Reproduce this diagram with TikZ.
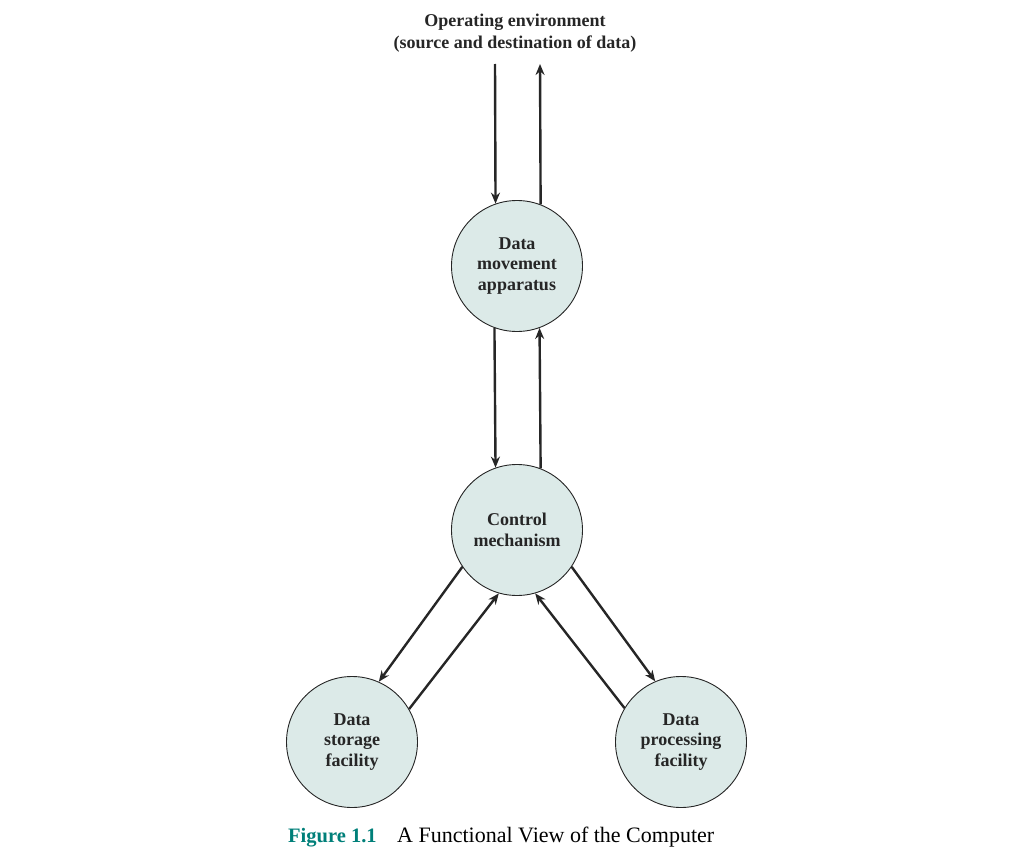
\documentclass[tikz,border=0pt]{standalone}
\usepackage{fontspec}
\setmainfont{Liberation Serif}
\usetikzlibrary{arrows.meta}
\definecolor{cfill}{HTML}{DCEAE8}
\definecolor{cteal}{HTML}{007F79}
\tikzset{
  unit/.style={circle, draw=black!85, line width=0.9pt, fill=cfill, minimum size=131pt, inner sep=0pt,
    align=center, font=\fontsize{18}{20.5}\selectfont\bfseries, text=black!85},
  flow/.style={line width=2.4pt, draw=black!85, -{Stealth[length=11pt,width=9pt]}},
}
\begin{document}
\begin{tikzpicture}[x=1pt,y=-1pt]
\useasboundingbox (0,0) rectangle (1031,859);
\node[font=\fontsize{18}{21.5}\selectfont\bfseries, align=center, text=black!85] (env) at (515,33)
  {Operating environment\\(source and destination of data)};
\node[unit] (mv) at (517,266) {Data\\movement\\apparatus};
\node[unit] (ct) at (517,530) {Control\\mechanism};
\node[unit] (st) at (352,742) {Data\\storage\\facility};
\node[unit] (pr) at (681,742) {Data\\processing\\facility};
\coordinate (ein) at (495,64);
\coordinate (eout) at (540,64);
\draw[flow] (ein) -- (mv.109.8);
\draw[flow] (mv.69.3) -- (eout);
\draw[flow] (mv.250.2) -- (ct.109.8);
\draw[flow] (ct.69.3) -- (mv.290.7);
\draw[flow] (ct.214) -- (st.66.7);
\draw[flow] (st.30.7) -- (ct.254);
\draw[flow] (ct.326) -- (pr.113.3);
\draw[flow] (pr.149.3) -- (ct.286);
\node[anchor=base west, inner sep=0pt, font=\fontsize{20.5}{22}\selectfont\bfseries, text=cteal] (fig) at (288,842) {Figure 1.1};
\node[anchor=base west, inner sep=0pt, font=\fontsize{22}{24}\selectfont, text=black] (cap) at (397,842) {A Functional View of the Computer};
\end{tikzpicture}
\end{document}
